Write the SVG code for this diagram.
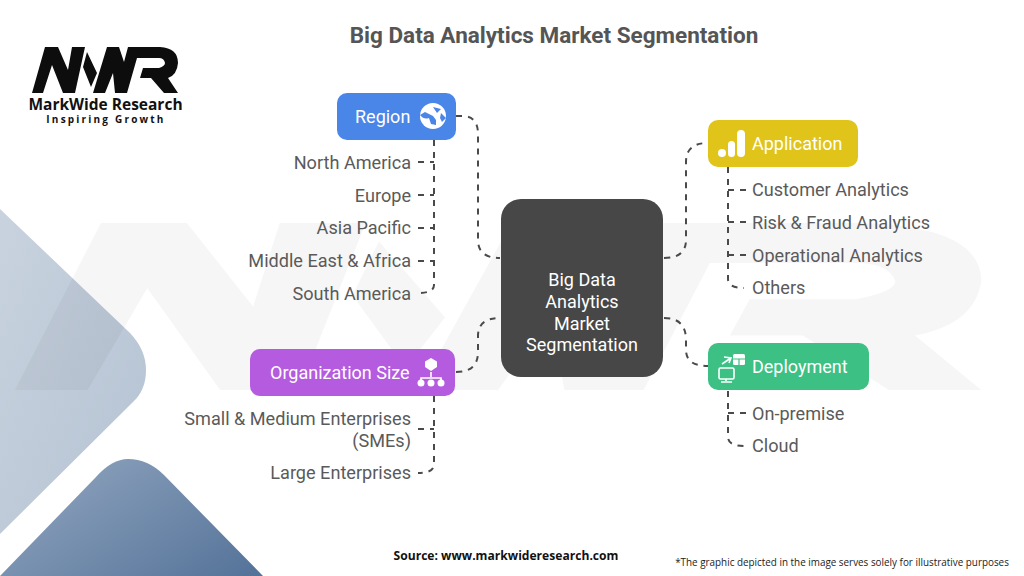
<svg xmlns="http://www.w3.org/2000/svg" width="1024" height="576" viewBox="0 0 1024 576">
<defs>
<linearGradient id="g1" x1="0" y1="0" x2="1" y2="1"><stop offset="0" stop-color="#c9d3df"/><stop offset="1" stop-color="#b4c2d2"/></linearGradient>
<linearGradient id="g2" x1="0" y1="0.2" x2="1" y2="0.9"><stop offset="0" stop-color="#8fa4be"/><stop offset="1" stop-color="#56749a"/></linearGradient>
<path id="mwr" d="M32 93L45 47H58L68 70L72 47H85L75 93H63L52 65L43 93ZM87 52L97 73L91 87L83 67ZM93 93L107 47H119L124 62L128 47H160Q178 48 178 63Q177 75 168 78L178 93H164L151 78H140L143 68H159Q165 66 165 63Q164 58 159 58H137L127 93H115L113 73L105 93Z"/>
</defs>
<style>
text{font-family:Roboto,"Liberation Sans",sans-serif}
.it{font-size:18.1px;fill:#5a5a5a}
.r{text-anchor:end}
.hd{font-size:18px;fill:#fff;font-weight:400}
.c{fill:none;stroke:#4a4a4a;stroke-width:2;stroke-dasharray:6 6}
.ic{fill:#fff}
.os{font-family:'Open Sans','Liberation Sans',sans-serif}
</style>
<g id="background">
<path d="M0 209L130 333Q146 350 146 370Q146 390 133 402L0 534Z" fill="url(#g1)"/>
<path d="M0 576L96 477Q112 459 128 459Q148 459 164 475L263 576Z" fill="url(#g2)"/>
<use href="#mwr" fill="#000" fill-opacity="0.035" transform="translate(-197 52.400) scale(6.62 3.63)"/>
</g>
<g id="title"><text x="554" y="43" text-anchor="middle" font-size="22.500" font-weight="700" fill="#555">Big Data Analytics Market Segmentation</text></g>
<g id="logo">
<use href="#mwr" fill="#0d0d0d"/>
<text class="os" x="105.500" y="110" text-anchor="middle" font-size="15.500" font-weight="700" fill="#111">MarkWide Research</text>
<text class="os" x="106" y="123" text-anchor="middle" font-size="10" font-weight="700" letter-spacing="2.200" fill="#111">Inspiring Growth</text>
</g>
<g id="connectors">
<path class="c" d="M456 116H462Q478 116 478 134V240Q478 258 500 258"/>
<path class="c" d="M456 372Q478 372 478 352V336Q478 318 500 318"/>
<path class="c" d="M664 258Q686 258 686 240V162Q686 143 708 143"/>
<path class="c" d="M664 318Q686 318 686 340V350Q686 366 708 366"/>
<path class="c" d="M434 140V285Q434 293 418 293"/>
<path class="c" d="M418 162H434M418 195H434M418 228H434M418 261H434"/>
<path class="c" d="M728 167V279Q728 288 744 288"/>
<path class="c" d="M728 190H746M728 222H746M728 255H746"/>
<path class="c" d="M434 396V464Q434 473 418 473"/>
<path class="c" d="M418 429H434"/>
<path class="c" d="M728 391V437Q728 446 744 446"/>
<path class="c" d="M728 413H746"/>
</g>
<g id="center"><rect x="501" y="199" width="162" height="178" rx="20" fill="#474747"/>
<g font-size="18" fill="#fff" text-anchor="middle"><text x="582" y="286">Big Data</text><text x="582" y="308">Analytics</text><text x="582" y="329.500">Market</text><text x="582" y="351">Segmentation</text></g></g>
<g id="region"><rect x="337" y="93" width="119" height="47" rx="10" fill="#4a86e8"/>
<text class="hd" x="355" y="122.500">Region</text>
<circle class="ic" cx="433" cy="116" r="13"/><path fill="#4a86e8" d="M420 115Q424 120 429 118L431 124L436 125L436 120L433 116L425 112ZM433 107L441 109L437 113ZM441 113L446 118L442 122L440 118Z"/></g>
<g id="application"><rect x="708" y="120" width="150" height="47" rx="10" fill="#e0c41a"/>
<text class="hd" x="752" y="149.500">Application</text>
<circle class="ic" cx="722" cy="153" r="4"/><rect class="ic" x="728" y="141" width="7" height="16" rx="3.500"/><rect class="ic" x="737" y="130" width="8" height="27" rx="4"/></g>
<g id="deployment"><rect x="708" y="343" width="161" height="47" rx="10" fill="#3cc084"/>
<text class="hd" x="752" y="372.500">Deployment</text>
<rect x="733" y="354" width="12" height="11" rx="1.500" class="ic"/><path d="M733 359H745M739 359V365" stroke="#3cc084" stroke-width="1.200"/>
<path d="M722 364L731 358M724 357l7 1-2 5" fill="none" stroke="#fff" stroke-width="1.600"/>
<rect x="719" y="368" width="15" height="11" rx="1.500" fill="none" stroke="#fff" stroke-width="1.600"/><path d="M726 379v2M721 382H732" stroke="#fff" stroke-width="1.600"/></g>
<g id="organization-size"><rect x="250" y="349" width="205" height="47" rx="10" fill="#b45be0"/>
<text class="hd" x="270" y="378.500">Organization Size</text>
<path class="ic" d="M431 358L437 361.500V367L431 371L425 367V361.500Z"/><path d="M431 372V377M421 384V378H441V384" fill="none" stroke="#fff" stroke-width="1.600"/><circle class="ic" cx="421" cy="383" r="3.500"/><circle class="ic" cx="431" cy="383" r="3.500"/><circle class="ic" cx="441" cy="383" r="3.500"/></g>
<g id="region-items">
<text class="it r" x="411" y="169">North America</text><text class="it r" x="411" y="202">Europe</text><text class="it r" x="411" y="234">Asia Pacific</text><text class="it r" x="411" y="267">Middle East &amp; Africa</text><text class="it r" x="411" y="299.500">South America</text></g>
<g id="org-items"><text class="it r" x="411" y="425">Small &amp; Medium Enterprises</text><text class="it r" x="411" y="447">(SMEs)</text><text class="it r" x="411" y="479">Large Enterprises</text></g>
<g id="app-items"><text class="it" x="752" y="196">Customer Analytics</text><text class="it" x="752" y="229">Risk &amp; Fraud Analytics</text><text class="it" x="752" y="261.500">Operational Analytics</text><text class="it" x="752" y="294">Others</text></g>
<g id="dep-items"><text class="it" x="752" y="419.500">On-premise</text><text class="it" x="752" y="452">Cloud</text></g>
<g id="footer"><text class="os" x="506" y="560" text-anchor="middle" font-size="12.100" font-weight="700" fill="#111">Source: www.markwideresearch.com</text>
<text class="os" x="842" y="566" text-anchor="middle" font-size="9.900" fill="#222">*The graphic depicted in the image serves solely for illustrative purposes</text></g>
</svg>
